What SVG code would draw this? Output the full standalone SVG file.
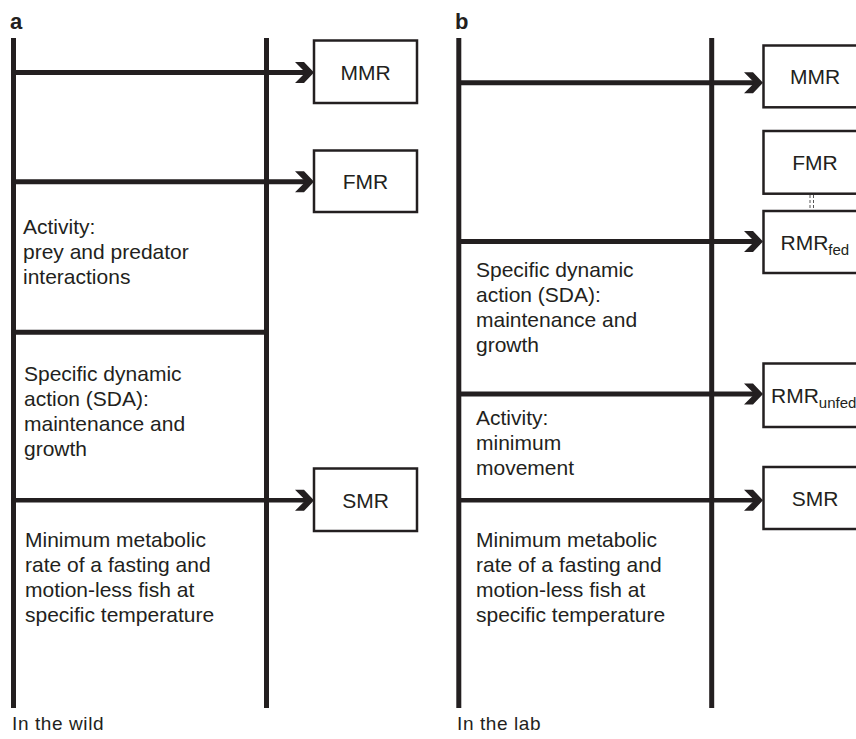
<svg xmlns="http://www.w3.org/2000/svg" width="856" height="739" viewBox="0 0 856 739">
<defs>
<style>
text{font-family:"Liberation Sans",Arial,Helvetica,sans-serif;fill:#231f20}
.t{font-size:21px}
.lbl{font-size:22px;font-weight:bold}
.foot{font-size:19px;letter-spacing:0.6px}
.box{fill:#fff;stroke:#231f20;stroke-width:2.5}
.vl{stroke:#231f20;stroke-width:5;fill:none}
.ar{stroke:#231f20;stroke-width:5;fill:none;marker-end:url(#chev)}
.dash{stroke:#555;stroke-width:1;stroke-dasharray:3 2;fill:none}
.sub{font-size:15px}
</style>
<marker id="chev" markerUnits="userSpaceOnUse" viewBox="-13 -12 22 24" markerWidth="22" markerHeight="24" refX="0" refY="0" orient="auto">
<path d="M-12,-10.5 L-3,-10.5 L7,0 L-3,10.5 L-12,10.5 L-1.5,0 Z" fill="#231f20"/>
</marker>
</defs>
<rect width="856" height="739" fill="#fff"/>

<text class="lbl" x="10" y="29">a</text>
<text class="lbl" x="455" y="29">b</text>

<g id="panel-a-frame">
<line class="vl" x1="13.5" y1="38" x2="13.5" y2="708"/>
<line class="vl" x1="266.5" y1="38" x2="266.5" y2="708"/>
<line class="vl" x1="13" y1="332.2" x2="267" y2="332.2"/>
</g>
<g id="panel-b-frame">
<line class="vl" x1="458.8" y1="38" x2="458.8" y2="708"/>
<line class="vl" x1="711.7" y1="38" x2="711.7" y2="708"/>
</g>

<g id="connectors">
<line class="ar" x1="13" y1="72.5" x2="307" y2="72.5"/>
<line class="ar" x1="13" y1="181.8" x2="307" y2="181.8"/>
<line class="ar" x1="16" y1="500.3" x2="307" y2="500.3" style="stroke-width:4.5"/>
<line class="ar" x1="461" y1="82.8" x2="756" y2="82.8"/>
<line class="ar" x1="458" y1="241.5" x2="756" y2="241.5"/>
<line class="ar" x1="461" y1="394" x2="756" y2="394"/>
<line class="ar" x1="461" y1="500.3" x2="756" y2="500.3" style="stroke-width:4.5"/>
<line class="dash" x1="810" y1="195" x2="810" y2="210"/>
<line class="dash" x1="813.5" y1="195" x2="813.5" y2="210"/>
</g>

<g id="a-mmr"><rect class="box" x="314" y="40.5" width="103" height="62.5"/><text class="t" x="365.5" y="79.5" text-anchor="middle">MMR</text></g>
<g id="a-fmr"><rect class="box" x="314" y="150.5" width="103" height="61.5"/><text class="t" x="365.5" y="189" text-anchor="middle">FMR</text></g>
<g id="a-smr"><rect class="box" x="314" y="468.5" width="103" height="62.5"/><text class="t" x="365.5" y="507.5" text-anchor="middle">SMR</text></g>

<g id="b-mmr"><rect class="box" x="763.5" y="45.5" width="103" height="61.8"/><text class="t" x="815" y="84" text-anchor="middle">MMR</text></g>
<g id="b-fmr"><rect class="box" x="763.5" y="131" width="103" height="62.7"/><text class="t" x="815" y="170" text-anchor="middle">FMR</text></g>
<g id="b-rmrfed"><rect class="box" x="763.5" y="211" width="103" height="62"/><text class="t" x="780.5" y="249.5">RMR<tspan class="sub" dy="5">fed</tspan></text></g>
<g id="b-rmrunfed"><rect class="box" x="763.5" y="363.5" width="103" height="63.5"/><text class="t" x="771" y="403">RMR<tspan class="sub" dy="5">unfed</tspan></text></g>
<g id="b-smr"><rect class="box" x="763.5" y="467" width="103" height="62"/><text class="t" x="815" y="505.5" text-anchor="middle">SMR</text></g>

<g id="a-activity"><text class="t" x="23" y="234">Activity:<tspan x="23" dy="25">prey and predator</tspan><tspan x="23" dy="25">interactions</tspan></text></g>
<g id="a-sda"><text class="t" x="24" y="381">Specific dynamic<tspan x="24" dy="25">action (SDA):</tspan><tspan x="24" dy="25">maintenance and</tspan><tspan x="24" dy="25">growth</tspan></text></g>
<g id="a-min"><text class="t" x="25" y="547">Minimum metabolic<tspan x="25" dy="25">rate of a fasting and</tspan><tspan x="25" dy="25">motion-less fish at</tspan><tspan x="25" dy="25">specific temperature</tspan></text></g>

<g id="b-sda"><text class="t" x="476" y="277">Specific dynamic<tspan x="476" dy="25">action (SDA):</tspan><tspan x="476" dy="25">maintenance and</tspan><tspan x="476" dy="25">growth</tspan></text></g>
<g id="b-activity"><text class="t" x="476" y="425">Activity:<tspan x="476" dy="25">minimum</tspan><tspan x="476" dy="25">movement</tspan></text></g>
<g id="b-min"><text class="t" x="476" y="547">Minimum metabolic<tspan x="476" dy="25">rate of a fasting and</tspan><tspan x="476" dy="25">motion-less fish at</tspan><tspan x="476" dy="25">specific temperature</tspan></text></g>

<text class="foot" x="12" y="730">In the wild</text>
<text class="foot" x="457" y="730">In the lab</text>
</svg>
